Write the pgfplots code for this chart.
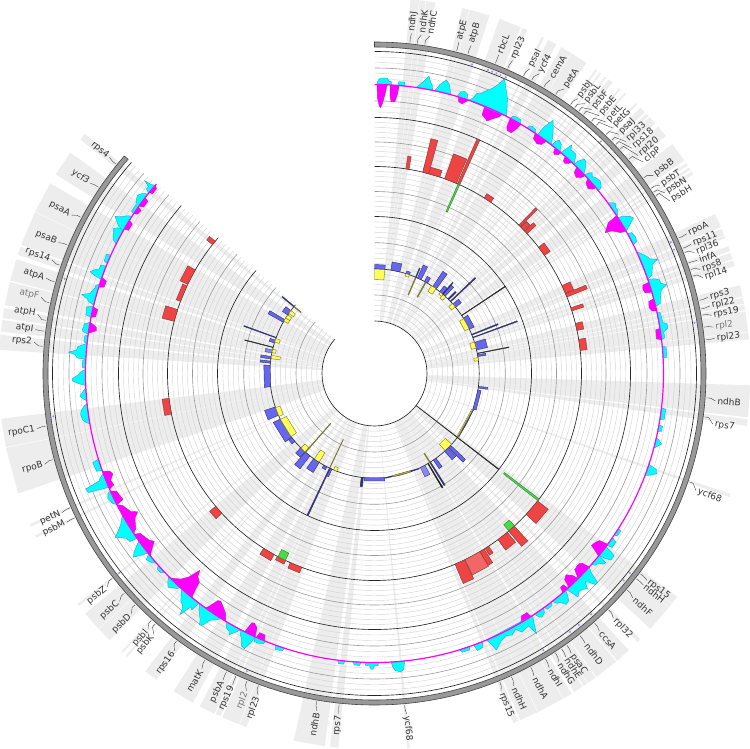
\documentclass[border=0pt]{standalone}
\usepackage{fontspec}
\setmainfont{DejaVu Sans}
\usepackage{pgfplots}
\pgfplotsset{compat=1.18}
\definecolor{wedgec}{HTML}{EDEDED}
\definecolor{gridc}{HTML}{D4D4D4}
\definecolor{midc}{HTML}{9A9A9A}
\definecolor{redf}{HTML}{EF4444}
\definecolor{redl}{HTML}{F26666}
\definecolor{redd}{HTML}{7A3A3A}
\definecolor{greenf}{HTML}{44DD44}
\definecolor{greend}{HTML}{3A7A3A}
\definecolor{bluef}{HTML}{6666EE}
\definecolor{blued}{HTML}{30306A}
\definecolor{bluel}{HTML}{8888EE}
\definecolor{yelf}{HTML}{FFFF55}
\definecolor{yeld}{HTML}{77772E}
\definecolor{cyanf}{HTML}{00FFFF}
\definecolor{cyand}{HTML}{2E9FD0}
\definecolor{magf}{HTML}{FF00FF}
\definecolor{magd}{HTML}{C020C0}
\definecolor{lav}{HTML}{9A9AD8}
\definecolor{labc}{HTML}{333333}
\definecolor{labl}{HTML}{777777}
\definecolor{ringf}{HTML}{999999}
\definecolor{ringd}{HTML}{444444}
\newcommand\POLY[5]{\addplot[#5,data cs=polar,forget plot] table[x expr=90-\thisrowno{0},y index=1,row sep=\\,header=false]{#1 #3\\#2 #3\\#2 #4\\#1 #4\\} -- cycle;}
\newcommand\WW[2]{\POLY{#1}{#2}{52.5}{376}{fill=wedgec,draw=none}}
\newcommand\RR[3]{\POLY{#1}{#2}{207}{#3}{fill=redf,draw=redd,line width=.4pt}}
\newcommand\RL[3]{\POLY{#1}{#2}{207}{#3}{fill=redl,draw=redd,line width=.4pt}}
\newcommand\GG[3]{\POLY{#1}{#2}{207}{#3}{fill=greenf,draw=greend,line width=.4pt}}
\newcommand\BB[3]{\POLY{#1}{#2}{104.7}{#3}{fill=bluef,draw=blued,line width=.4pt}}
\newcommand\BL[3]{\POLY{#1}{#2}{104.7}{#3}{fill=bluel,draw=blued,line width=.3pt}}
\newcommand\YY[3]{\POLY{#1}{#2}{104.7}{#3}{fill=yelf,draw=yeld,line width=.4pt}}
\newcommand\NN[3]{\POLY{#1}{#2}{104.7}{#3}{fill=blued,draw=blued,line width=.3pt}}
\newcommand\OO[3]{\POLY{#1}{#2}{104.7}{#3}{fill=yeld,draw=yeld,line width=.3pt}}
\newcommand\CC[1]{\addplot[fill=cyanf,draw=cyand,line width=.4pt,data cs=polar,forget plot] table[x expr=90-\thisrowno{0},y expr=289+1.1*\thisrowno{1},row sep=\\,header=false]{#1} -- cycle;}
\newcommand\MM[1]{\addplot[fill=magf,draw=magd,line width=.4pt,data cs=polar,forget plot] table[x expr=90-\thisrowno{0},y expr=289+1.1*\thisrowno{1},row sep=\\,header=false]{#1} -- cycle;}
\newcommand\ARC[2]{\draw[#2] (axis cs:0,#1) arc[start angle=90,end angle=-221,radius=#1pt];}
\newcommand\CONN[2]{\draw[labc,line width=.35pt] (axis cs:{333*sin(#1)},{333*cos(#1)}) -- (axis cs:{337*sin(#1)},{337*cos(#1)}) -- (axis cs:{342*sin(#2)},{342*cos(#2)});}
\newcommand\LR[4][labc]{\CONN{#2}{#3}\node[anchor=west,inner sep=0pt,rotate=90-#3,text=#1,font=\fontsize{9}{9}\selectfont] at (axis cs:{344*sin(#3)},{344*cos(#3)}) {#4};}
\newcommand\LL[4][labc]{\CONN{#2}{#3}\node[anchor=east,inner sep=0pt,rotate=270-#3,text=#1,font=\fontsize{9}{9}\selectfont] at (axis cs:{344*sin(#3)},{344*cos(#3)}) {#4};}
\begin{document}
\begin{tikzpicture}
\useasboundingbox (0,0) rectangle (750pt,748pt);
\begin{axis}[at={(0,0)},anchor=south west,scale only axis,width=750pt,height=748pt,
 xmin=-374.5,xmax=375.5,ymin=-374.5,ymax=373.5,axis lines=none,ticks=none]
% gene highlights
\WW{5.5}{6.8}\WW{6.9}{7.8}\WW{7.9}{9.3}\WW{13.5}{14.6}\WW{14.7}{17.8}\WW{19.4}{22.9}\WW{23.2}{24}
\WW{26.4}{26.8}\WW{27.5}{28.9}\WW{29.8}{31.5}\WW{31.6}{34.3}\WW{36}{36.3}\WW{36.8}{37.1}\WW{37.8}{38.1}\WW{38.5}{39.3}
\WW{40.6}{40.9}\WW{41.7}{42}\WW{44}{44.3}\WW{45}{46}\WW{46.3}{46.8}\WW{47}{48.3}\WW{49}{50.8}\WW{52.4}{55.5}
\WW{56}{56.4}\WW{56.8}{57.2}\WW{57.5}{58}\WW{64.9}{67.1}\WW{67.4}{68.4}\WW{68.5}{68.9}\WW{70.2}{71}\WW{71.3}{72.3}\WW{72.5}{73.4}
\WW{76.4}{78.2}\WW{78.4}{79.3}\WW{79.5}{80.3}\WW{80.5}{83.6}\WW{83.7}{84.8}\WW{91.8}{96.7}\WW{97}{98}\WW{108.7}{109.2}
\WW{126.4}{127.7}\WW{127.8}{128.4}\WW{128.5}{132.8}\WW{135}{135.6}\WW{137.4}{139.8}\WW{140}{143.8}\WW{144}{145.4}\WW{145.5}{146.2}
\WW{146.4}{147.9}\WW{148.4}{149.8}\WW{149.9}{154.2}\WW{154.3}{157.2}\WW{157.5}{158.3}\WW{174.6}{175}\WW{185.5}{186.8}\WW{187.6}{192.4}
\WW{199.9}{201}\WW{201.1}{203.9}\WW{204.2}{205}\WW{205.2}{207.7}\WW{208.9}{212.3}\WW{215.4}{217.6}\WW{221.1}{221.4}\WW{222}{222.3}
\WW{224.8}{227.1}\WW{227.2}{230.3}\WW{231.8}{232.2}\WW{244.1}{244.5}\WW{246}{246.4}\WW{251.4}{258.6}\WW{258.7}{263.1}
\WW{273.6}{275.9}\WW{276.4}{278.2}\WW{278.5}{280}\WW{280.5}{284.1}\WW{284.3}{287.7}\WW{288.4}{289.7}\WW{290}{295.4}\WW{295.5}{300.4}\WW{302}{306}\WW{308.5}{309.6}
% grid circles
\pgfplotsinvokeforeach{57.7,62.9,68.1,73.3,83.8,89,94.2,99.4,109.9,115.1,120.3,125.5,136,141.2,146.4,151.6,162,167,172,177,187,192,197,202,212,217,222,227,236,241,246,251,261.5,267,278,283.5,294.5,300,311,316.5}{\ARC{#1}{gridc,line width=.45pt}}
\pgfplotsinvokeforeach{78.5,130.8,182,231.5,272.5,305.5}{\ARC{#1}{midc,line width=.6pt}}
\pgfplotsinvokeforeach{52.5,104.7,157,207,256,322}{\ARC{#1}{black!85,line width=.65pt}}
% red and green track
\RR{8.7}{9.6}{220}\RR{13.5}{18.4}{214}\RR{13.5}{15.2}{241.5}\RR{19.8}{23.3}{233.5}\RR{23.6}{24.3}{256}\GG{23.8}{24.3}{177}
\RR{32}{34.2}{212}\RR{44.2}{44.8}{231}\RR{45}{46.3}{215}\RR{46.5}{47.5}{219}\RR{52.4}{55.2}{214}\RR{64.9}{67.2}{216}\RR{67.3}{68.3}{229}
\RR{71.5}{72.4}{219.5}\RR{76}{78}{214}\RR{80.5}{83.6}{214}\GG{127.3}{127.9}{163.5}\RR{128}{132.9}{220.5}\GG{137.4}{139.5}{199}
\RR{137.5}{139.6}{227}\RR{140.1}{143.4}{220}\RR{146.5}{147.7}{215}\RR{148}{149.4}{223}\RL{149.4}{154.1}{224}\RR{154.2}{157.1}{228}
\RR{200.6}{204}{213}\RR{205.4}{208}{211}\GG{205.5}{207.8}{199}\RR{209}{212.4}{214}\RR{227.5}{230.1}{215}\RR{258.7}{263.1}{214}
\RR{284.6}{288}{219.5}\RR{290.4}{295}{211.5}\RR{295.5}{300}{215.5}\RR{308.5}{309.7}{214.5}
% blue and yellow track
\YY{0}{5.7}{94}\BB{0}{5.7}{109}\BB{9}{14}{113}\BB{17.5}{19.5}{107.5}\YY{17.5}{19.5}{102}\OO{23}{23.5}{85.5}\NN{23}{23.5}{114.5}\BB{24.2}{26.5}{119}
\OO{29}{29.6}{87.5}\BB{28.5}{30.4}{110.5}\BB{33.8}{36.2}{123}\YY{33}{36}{98}\BB{38.5}{40.5}{112}\YY{39}{41}{102}\YY{41}{43}{100}\NN{40.5}{41}{120}\BB{41}{42.5}{117}
\NN{44.5}{45.2}{115}\NN{46.3}{46.8}{139}\BB{48.5}{50.8}{112}\YY{48}{50.5}{100}\POLY{56.2}{56.5}{104.7}{157}{fill=black,draw=black!80,line width=.3pt}
\BB{58}{65}{110}\YY{58.4}{64.7}{100}\NN{68}{68.5}{133}\NN{69.7}{70.1}{152}\BB{72.7}{77}{116}\YY{72.5}{76}{100}\POLY{78.8}{79.1}{104.7}{137}{fill=black,draw=black!80,line width=.3pt}
\BB{79.7}{80.7}{113}\YY{81.3}{83}{100.5}\BB{97}{98}{114}\BB{99.1}{109.8}{108}\BB{110}{127}{105.6}\YY{110}{127}{103.6}
\POLY{127.5}{127.8}{52.5}{157}{fill=black,draw=black!80,line width=.3pt}
\YY{132.5}{137.5}{96}\BB{133.3}{135}{125}\BB{135.5}{138}{116}\BB{144}{145.8}{115}\NN{147.6}{148.2}{132}\OO{147.8}{148.3}{94}
\POLY{149}{149.5}{104.7}{133}{fill=black,draw=black!80,line width=.3pt}\BL{151.2}{154}{115}\BB{155}{174}{105.4}\YY{160}{170}{103.7}
\BB{174.5}{185.5}{108}\NN{186.1}{187.3}{114}\YY{201}{203}{101}\BB{207}{209}{108}\NN{205}{205.5}{157}\BB{204}{205}{113}\OO{205.2}{205.5}{73}
\YY{212}{215.2}{93.5}\BB{211.8}{215.6}{116.5}\BB{218}{221.3}{121}\BB{221.6}{224.8}{112}\YY{221.5}{224.6}{99}\OO{221}{221.5}{66.5}\BB{229.5}{232.4}{108.5}
\BB{232.5}{244.2}{112.5}\YY{232.8}{244}{98}\BB{246.5}{251.4}{116}\YY{245.8}{251}{100}\BB{262.8}{274.4}{111}\BB{275.7}{276.8}{115}\YY{278.2}{280}{95.5}
\BB{278}{279.3}{115}\BL{281.3}{283}{111.7}\YY{281.5}{283.4}{101}\POLY{284.3}{284.6}{104.7}{134}{fill=black,draw=black!80,line width=.3pt}\BB{287}{288.6}{110}
\YY{287.5}{289.5}{100}\NN{289.8}{290.2}{139}\BB{299.3}{301}{122}\YY{300}{302}{100}\YY{302}{304}{100}\BB{304}{307}{111}\YY{305}{307}{99}\NN{309.5}{310}{120}\OO{309.5}{310}{95.6}
% magenta profile
\MM{0.5 0\\0.6 -12\\1 -19\\1.3 -21\\1.7 -17\\2.2 -8\\2.5 0\\}
\MM{3.1 0\\3.2 -10\\3.5 -15\\4.3 -15\\4.7 -8\\4.9 0\\}
\MM{16.9 0\\17.2 -4\\18 -5\\18.6 -2\\19 0\\}
\MM{22.4 0\\22.6 -8\\23.5 -10\\24 -11.5\\25 -7\\26 -3\\26.2 0\\}
\MM{28 0\\28.2 -8\\28.6 -11\\29.6 -11\\30.2 -5\\30.4 0\\}
\MM{33.8 0\\34.1 -5\\35.3 -7\\36.1 -5\\36.5 0\\}
\MM{38.7 0\\39 -4\\39.5 -5\\40 -3\\40.2 0\\}
\MM{41.3 0\\41.6 -4\\42.1 -5\\42.7 -3\\43 0\\}
\MM{44.4 0\\44.8 -5\\45.8 -7\\46.5 -4\\46.8 0\\}
\MM{47.6 0\\48 -4\\49.1 -6\\49.8 -3\\50 0\\}
\MM{56.9 0\\57.2 -10\\58.6 -17\\59 -11\\59.6 -8\\60.2 -5\\60.5 0\\}
\MM{71.6 0\\71.8 -6\\72.5 -7\\73.4 -6\\73.7 0\\}
\MM{75 0\\75.3 -5\\76.5 -6\\77.3 -4\\77.5 0\\}
\MM{81 0\\81.2 -4\\83 -4.5\\83.3 0\\}
\MM{126.2 0\\126.6 -8\\127.4 -10\\128.4 -11\\128.8 -5\\129.2 0\\}
\MM{132 0\\132.4 -7\\133 -9\\134.4 -8\\134.8 -4\\135.2 0\\}
\MM{135.2 0\\135.6 -6\\136.4 -10\\137.3 -8\\137.6 -2\\138 0\\}
\MM{138 0\\138.2 -5\\139 -5\\139.3 0\\}
\MM{147.2 0\\147.5 -5\\148.8 -5\\149.2 -2\\149.5 0\\}
\MM{202.4 0\\202.7 -5\\203.9 -5\\204.1 0\\}
\MM{204.4 0\\204.8 -8\\205.7 -11\\206.2 -10\\206.7 0\\}
\MM{211 0\\211.8 -6\\213 -10\\214 -13\\214.6 -12\\215.4 -3\\215.8 0\\}
\MM{219.2 0\\219.6 -7\\220 -15\\221 -18\\221.6 -23.5\\222.4 -12\\223.3 -6\\224.4 -2\\225 0\\}
\MM{230.8 0\\231.4 -3\\232.2 -8\\232.7 -11\\233.5 -8\\234.9 -6\\235.7 -5\\236.2 0\\}
\MM{236.4 0\\237 -4\\238.3 -7\\239 -9\\239.7 -13.5\\240.5 -8\\241.5 -6\\242.4 -4\\243 0\\}
\MM{243 0\\243.4 -7\\244.5 -6\\245.5 -5\\246 0\\}
\MM{246.4 0\\246.9 -5\\248 -4\\249 -8\\249.8 -6\\250.2 0\\}
\MM{278 0\\278.4 -4\\278.8 -7\\279.4 -6.5\\279.9 -3\\280.2 0\\}
\MM{281.2 0\\281.5 -4\\283 -4.5\\283.3 0\\}
\MM{287.4 0\\287.7 -4.5\\289 -5\\289.4 0\\}
\MM{300 0\\300.2 -4\\301.7 -4\\302 0\\}
\MM{303.6 0\\303.9 -3\\304.9 -4\\305.2 0\\}
\MM{305.4 0\\305.8 -4\\307.2 -4\\307.5 0\\}
\MM{308.8 0\\309 -3\\310.3 -3\\310.6 0\\}
% cyan profile
\CC{0.5 0\\0.7 4\\1.2 6\\2.5 6\\2.9 3\\3.3 3\\3.4 0\\}
\CC{4.6 0\\4.8 3.5\\5.9 3.5\\6.1 0\\}
\CC{8.3 0\\8.9 3\\9.6 7\\10.4 12\\10.9 7\\11.4 4\\11.6 0\\}
\CC{12 0\\12.8 7\\13.8 12\\14.6 8\\15.3 0\\}
\CC{16.6 0\\17 5\\17.8 6.5\\18.4 5\\18.7 0\\}
\CC{19 0\\19.7 3.4\\20.1 8.6\\20.7 9\\21.2 12\\22.5 18\\23.1 22.7\\23.8 30\\24.6 24\\25.8 15\\27.2 0\\}
\CC{28 0\\28.3 3\\29 4\\30 3.5\\30.3 0\\}
\CC{31.8 0\\32.1 3\\32.6 4\\33.5 3\\33.8 0\\}
\CC{34.3 0\\34.5 9\\34.9 15\\35.2 19\\36.4 11\\37.4 3\\37.8 0\\}
\CC{37.8 0\\38 5\\38.4 8\\38.7 7\\39.2 6\\39.6 3\\40.2 0\\}
\CC{40.2 0\\40.4 5\\40.8 11.5\\41.3 8\\41.8 8\\42.6 8\\43.4 2\\43.6 0\\}
\CC{43.6 0\\43.8 5\\44.4 10\\45 9\\45.5 6\\46 3.5\\46.4 0\\}
\CC{46.6 0\\46.9 4\\47.3 6.5\\47.9 4\\48.5 6\\49.6 7\\50.6 4\\50.8 0\\}
\CC{53.8 0\\54.4 4\\54.9 5.5\\55.4 3.5\\56 4\\56.7 2\\57 0\\}
\CC{57.4 0\\57.6 4\\58.4 10\\59 12\\59.5 8\\60 4\\60.6 0\\}
\CC{61 0\\61.3 4\\62.5 5\\63.3 4\\63.6 0\\}
\CC{65.2 0\\65.5 2\\66.8 7\\67.5 9\\68 15\\68.5 9\\69.2 7.5\\70.4 5\\71 0\\}
\CC{71 0\\71.3 6\\71.8 10\\72.5 10\\73.1 15\\73.7 9\\75 6.5\\76.2 5\\76.6 0\\}
\CC{77.8 0\\78 3\\80 3.5\\80.3 7\\81.2 7\\81.8 3\\83 3\\83.3 0\\}
\CC{84.6 0\\84.8 3.5\\86.8 3.5\\87 0\\}
\CC{96.8 0\\97 4\\99 4\\99.2 0\\}
\CC{100.2 0\\100.4 3.5\\101.4 3.5\\101.6 0\\}
\CC{102.8 0\\103.2 3\\103.8 6\\104.4 3\\105 0\\}
\CC{108.3 0\\108.8 8\\109.6 9.5\\110.4 3\\110.6 0\\}
\CC{122.4 0\\122.6 3\\123.8 3\\124 0\\}
\CC{124.6 0\\124.9 5\\126.2 5\\126.5 0\\}
\CC{126.8 0\\127 7\\127.3 11\\128.3 11\\128.8 5\\129 0\\}
\CC{129 0\\129.3 9\\129.8 8\\130.4 4\\131 3\\131.3 0\\}
\CC{132 0\\132.6 5\\133.1 15\\133.7 15\\134.3 9\\134.7 7\\135.3 12.5\\136 10\\136.8 9\\137.7 12\\138 6\\138.4 0\\}
\CC{138.6 0\\139 5\\139.5 9\\140.3 10\\141 5\\141.6 4\\142 0\\}
\CC{142.2 0\\142.6 3\\143.8 3\\144 0\\}
\CC{144.2 0\\144.6 4\\145.5 6\\146 4\\146.4 0\\}
\CC{146.8 0\\147.3 5\\148.1 16\\148.6 6\\149.4 7\\150.3 8\\151.1 3\\152.3 6\\153.2 4\\154.5 6\\155.4 9\\156.2 12\\156.8 4\\157.2 0\\}
\CC{158 0\\158.4 5\\159.6 6\\160 0\\}
\CC{160.8 0\\161 3\\162.5 3\\162.9 0\\}
\CC{174 0\\174.4 8\\175 9.5\\176 8\\176.5 4\\176.7 0\\}
\CC{179.2 0\\179.3 3\\180 3\\180.3 6\\180.7 6\\181 3\\181.7 3\\181.9 0\\}
\CC{182.7 0\\182.9 3\\184 3\\184.2 0\\}
\CC{185.9 0\\186.1 3\\187.1 3\\187.3 0\\}
\CC{198.2 0\\198.4 3\\199.8 4\\200 0\\}
\CC{202 0\\202.4 3\\203.5 4.5\\204.2 4\\204.6 0\\}
\CC{204.4 0\\204.7 7\\205.3 14\\206 13\\206.5 8\\207.2 4\\207.6 0\\}
\CC{207.6 0\\208 3\\209.1 9\\209.5 6\\210.2 5\\210.8 0\\}
\CC{212 0\\212.6 3\\213.7 7\\214.3 14\\214.8 16\\215.4 11\\216.2 7\\216.9 3\\217.2 0\\}
\CC{217.4 0\\217.7 9\\218.2 7\\218.9 19\\219.2 14\\219.6 11\\220.4 9\\221.2 4\\222 0\\}
\CC{222.2 0\\222.6 3\\223.4 5\\224 7.5\\224.8 4\\225.4 0\\}
\CC{226.6 0\\227 3\\228 3\\228.4 0\\}
\CC{229 0\\229.6 3\\230.8 5\\231.4 0\\}
\CC{231.6 0\\232 5\\232.7 13\\233.4 9.5\\234 5\\234.6 0\\}
\CC{235.2 0\\235.5 7\\236.4 8\\237.7 16\\238.7 9\\239.4 5\\240 3\\240.6 0\\}
\CC{243 0\\243.6 3\\244.9 5\\245.8 3\\246 0\\}
\CC{246.8 0\\247.1 9\\247.4 19\\248.2 20\\248.7 6\\249.2 4\\249.8 0\\}
\CC{250.4 0\\250.6 5\\252.4 6\\252.8 0\\}
\CC{260 0\\260.3 3\\261 6\\262 7\\262.6 6.5\\263.6 3\\264 0\\}
\CC{264.6 0\\265 3\\265.6 6\\266.4 3\\267.2 0\\}
\CC{267.6 0\\268 6\\268.6 12\\269 12\\269.7 7\\270.4 4\\270.8 0\\}
\CC{271 0\\271.2 3\\272.6 3\\272.8 0\\}
\CC{272.8 0\\273 8\\273.6 10\\274 16\\274.5 9\\275.2 8\\276 0\\}
\CC{276 0\\276.2 3\\277.4 3\\277.6 0\\}
\CC{277.8 0\\278.2 5\\278.6 6\\279 5\\279.7 5\\280.2 0\\}
\CC{281.2 0\\281.5 5\\283 6\\283.5 0\\}
\CC{283.7 0\\284.2 6\\284.6 7\\285.1 13\\285.7 6\\286.6 4\\287 3\\287.6 3\\288 0\\}
\CC{289 0\\289.3 7\\289.7 12\\290.3 9\\290.8 5\\291.6 5\\291.8 0\\}
\CC{292.4 0\\292.6 3.5\\294 4\\294.2 0\\}
\CC{296.6 0\\297.1 4\\297.8 6\\298.4 7\\299 9\\299.5 6\\300 0\\}
\CC{299.5 0\\300 6\\300.5 9\\301.2 13\\301.8 8\\302.5 4\\303 0\\}
\CC{303.5 0\\303.8 3\\305.3 3\\306 5\\306.9 7\\307.6 5\\308 3\\308.4 0\\}
\CC{308.6 0\\309 4\\309.6 4\\310 10\\310.2 4\\310.6 0\\}
% baseline and outer ring
\ARC{289}{magf,line width=1.2pt}
\fill[ringf,draw=ringd,line width=.6pt] (axis cs:0,331.5) arc[start angle=90,end angle=-221,radius=331.5pt] -- (axis cs:{326.5*sin(311)},{326.5*cos(311)}) arc[start angle=-221,end angle=90,radius=326.5pt] -- cycle;
% small marks beside the outer track
\addplot[only marks,mark=*,mark size=.8pt,lav,mark options={draw=none},data cs=polar,forget plot] table[x expr=90-\thisrowno{0},y index=1,row sep=\\,header=false]{17.5 324\\20.5 324\\21.3 324\\22.1 324\\22.9 324\\23.9 324\\44.3 324\\66.1 324\\67.5 324\\81 324\\128 324\\129.7 324\\138 324\\140.9 324\\142.9 324\\148.6 324\\203.2 324\\232 324\\262.4 324\\287 324\\};
% labels
\LR{6.1}{6.2}{ndhJ}\LR{7.4}{7.9}{ndhK}\LR{8.7}{9.3}{ndhC}\LR{14.3}{14.3}{atpE}\LR{16.3}{16.4}{atpB}\LR{21.3}{21.3}{rbcL}\LR{23.6}{23.8}{rpl23}
\LR{26.6}{27}{psaI}\LR{28.2}{28.8}{ycf4}\LR{30.6}{30.9}{cemA}\LR{33}{33.7}{petA}
\LR{36.1}{36.5}{psbJ}\LR{37}{37.9}{psbL}\LR{37.9}{39.5}{psbF}\LR{38.9}{41.1}{psbE}\LR{40.7}{42.7}{petL}\LR{41.8}{44.1}{petG}\LR{44.1}{45.6}{psaJ}
\LR{45.5}{47.3}{rpl33}\LR{46.5}{48.8}{rps18}\LR{47.6}{50.4}{rpl20}\LR{49.9}{51.8}{clpP}\LR{54}{54.6}{psbB}\LR{56.2}{56.6}{psbT}\LR{57}{58.1}{psbN}\LR{57.7}{59.7}{psbH}
\LR{66}{65.9}{rpoA}\LR{67.9}{67.8}{rps11}\LR{68.7}{69.3}{rpl36}\LR{70.6}{70.7}{infA}\LR{71.8}{72.3}{rps8}\LR{73}{73.7}{rpl14}
\LR{77.3}{77.1}{rps3}\LR{78.8}{78.6}{rpl22}\LR{79.9}{80.2}{rps19}\LR[labl]{82}{82.2}{rpl2}\LR{84.2}{84.1}{rpl23}\LR{94.2}{94.6}{ndhB}\LR{97.5}{98.5}{rps7}\LR{109}{110}{ycf68}
\LR{127}{127.2}{rps15}\LR{128.1}{128.2}{ndhH}\LR{130.6}{131}{ndhF}\LR{135.3}{135.7}{rpl32}\LR{138.6}{138.9}{ccsA}\LR{141.9}{142}{ndhD}\LR{144.7}{144.9}{psaC}\LR{145.8}{146}{ndhE}
\LR{147.1}{147.4}{ndhG}\LR{149.1}{149.3}{ndhI}\LR{152}{152.2}{ndhA}\LR{155.7}{156}{ndhH}\LR{157.9}{158.3}{rps15}\LR{174.8}{174.6}{ycf68}
\LL{186.1}{186}{rps7}\LL{190}{189.7}{ndhB}\LL{200.4}{199.9}{rpl23}\LL[labl]{202.5}{202}{rpl2}\LL{204.6}{204.5}{rps19}\LL{206.4}{206.3}{psbA}\LL{210.6}{210.3}{matK}\LL{216.5}{215.8}{rps16}
\LL{221.2}{220.2}{psbK}\LL{222.1}{221.5}{psbI}\LL{226}{225.3}{psbD}\LL{228.7}{228.2}{psbC}\LL{232}{231.4}{psbZ}\LL{244.3}{244.2}{psbM}\LL{246.2}{246}{petN}
\LL{255}{254.6}{rpoB}\LL{260.9}{260.7}{rpoC1}\LL{274.7}{275.3}{rps2}\LL{277.3}{277.4}{atpI}\LL{279.2}{280}{atpH}\LL[labl]{282.3}{282.9}{atpF}\LL{286}{286.2}{atpA}\LL{289}{289.4}{rps14}
\LL{292.7}{292.5}{psaB}\LL{298}{297.6}{psaA}\LL{304}{303.8}{ycf3}\LL{309}{309.2}{rps4}
\end{axis}
\end{tikzpicture}
\end{document}
